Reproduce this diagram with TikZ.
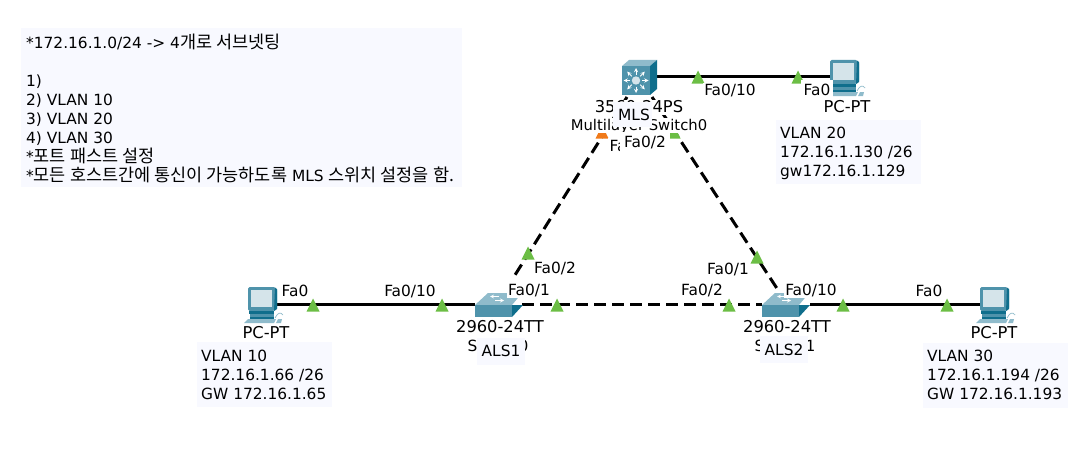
\documentclass[tikz,border=0pt]{standalone}
\usepackage{fontspec}
\setmainfont{DejaVu Sans}
\newfontfamily\cjk{Noto Sans CJK KR}
\newcommand{\ko}[1]{{\cjk\fontsize{17.5}{19}\selectfont #1}}
\definecolor{notebg}{HTML}{F8F9FF}
\definecolor{linkgreen}{HTML}{6CBE45}
\definecolor{linkorange}{HTML}{F07A1A}
\definecolor{icona}{HTML}{4F93AB}
\definecolor{iconb}{HTML}{8FBBCB}
\definecolor{iconc}{HTML}{0F6E8C}
\definecolor{screen}{HTML}{D5E4EA}
\tikzset{
  lbl/.style={font=\fontsize{15.4}{19}\selectfont, inner sep=0pt, text height=11pt, text depth=0pt},
  wlbl/.style={lbl, fill=white, inner xsep=1.5pt, inner ysep=2pt},
  wcap/.style={wlbl, font=\fontsize{16.3}{19}\selectfont},
  notetxt/.style={font=\fontsize{15.4}{19}\selectfont, align=left, anchor=north west, inner sep=0pt},
  trunk/.style={line width=3pt, dash pattern=on 12pt off 6pt},
  cable/.style={line width=3pt},
}
\newcommand{\tri}[3]{\fill[#3] (#1-6.5,#2+6.5) -- (#1,#2-6.5) -- (#1+6.5,#2+6.5) -- cycle;}
\newcommand{\pcicon}[2]{%
  \begin{scope}[shift={(#1,#2)}]
    \fill[icona,rounded corners=1.5pt] (3,0) -- (30,0) -- (32,2) -- (32,22) -- (29,24) -- (3,24) -- cycle;
    \fill[iconc] (30,1) -- (32,2) -- (32,22) -- (29,24) -- cycle;
    \fill[screen] (6,3) -- (27,3) -- (27,20) -- (6,20) -- cycle;
    \fill[iconc] (4,24) -- (29,24) -- (29,27) -- (4,27) -- cycle;
    \fill[icona] (5,27) -- (29,27) -- (29,30) -- (5,30) -- cycle;
    \fill[iconc] (5,30) -- (29,30) -- (29,31.5) -- (5,31.5) -- cycle;
    \fill[iconb] (-1,36) -- (3,32) -- (31,32) -- (29,36) -- cycle;
    \fill[iconb] (31,36) -- (33,32) -- (37,32) -- (36,36) -- cycle;
    \draw[iconb,line width=.7pt] (30,31) .. controls (33,25) and (36,25) .. (38,28);
  \end{scope}}
\newcommand{\swicon}[2]{%
  \begin{scope}[shift={(#1,#2)}]
    \fill[iconb] (0,12) -- (13,0) -- (47,0) -- (37,12) -- cycle;
    \draw[white, line width=.8pt, -stealth] (24,3.5) -- (15,3.5);
    \draw[white, line width=.8pt, -stealth] (20,7.5) -- (29,7.5);
    \fill[icona] (0,12) rectangle (37,24);
    \fill[iconc] (37,12) -- (48,12) -- (37,24) -- cycle;
  \end{scope}}
\begin{document}
\begin{tikzpicture}[x=1pt,y=-1pt]
\useasboundingbox (0,0) rectangle (1089,452);
\fill[white] (0,0) rectangle (1089,452);

% anchor coordinates of devices
\coordinate (MLSa) at (627,97);
\coordinate (MLSb) at (652,97);
\coordinate (MLSc) at (657,76);
\coordinate (PCtop) at (832,76);
\coordinate (PCl) at (277,304);
\coordinate (PCr) at (980,304);
\coordinate (S1l) at (475,304);
\coordinate (S1r) at (522,304);
\coordinate (S1t) at (515,275);
\coordinate (S2l) at (762,304);
\coordinate (S2r) at (810,304);
\coordinate (S2t) at (778,290);

% connectors
\draw[cable] (MLSc) -- (PCtop);
\draw[cable] (PCl) -- (S1l);
\draw[cable] (S2r) -- (PCr);
\draw[trunk] (MLSa) -- (S1t);
\draw[trunk] (MLSb) -- (S2t);
\draw[trunk] (S1r) -- (S2l);

% link lights
\tri{698}{77}{linkgreen}
\tri{798}{77}{linkgreen}
\tri{313}{305}{linkgreen}
\tri{442}{305}{linkgreen}
\tri{557}{305}{linkgreen}
\tri{729}{305}{linkgreen}
\tri{843}{305}{linkgreen}
\tri{947}{305}{linkgreen}
\tri{528}{253}{linkgreen}
\tri{757}{257}{linkgreen}
\tri{602}{132}{linkorange}
\tri{674}{132}{linkgreen}

% icons
\begin{scope}[shift={(622,60)}]
  \fill[iconb] (0,6) -- (7,0) -- (35,0) -- (28,6) -- cycle;
  \fill[icona] (0,6) rectangle (28,35);
  \fill[iconc] (28,6) -- (35,0) -- (35,29) -- (28,35) -- cycle;
  \foreach \a in {0,45,...,315}
    \draw[white, line width=.9pt, -stealth] (14,20.5) ++(\a:6) -- ++(\a:6.5);
  \fill[screen] (14,20.5) circle (4.2);
\end{scope}
\pcicon{827}{60}
\pcicon{245}{287}
\pcicon{977}{287}
\swicon{475}{293}
\swicon{762}{293}

% device captions
\node[wcap] (capa) at (639,107) {3560-24PS};
\node[wlbl,font=\fontsize{14.8}{19}\selectfont] (capb) at (639,125) {Multilayer Switch0};
\node[wlbl,anchor=west] (capc) at (608,145.5) {Fa0/1};
\node[wcap] (pc0) at (847,107) {PC-PT};
\node[wcap] (pc1) at (266,333) {PC-PT};
\node[wcap] (pc2) at (994,333) {PC-PT};
\node[wcap] (sw1a) at (500,327) {2960-24TT};
\node[wlbl] (sw1b) at (498,346) {Switch0};
\node[wcap] (sw2a) at (787,327) {2960-24TT};
\node[wlbl] (sw2b) at (785,346) {Switch1};

% port labels
\node[wlbl] (p1) at (730,90) {Fa0/10};
\node[wlbl,inner xsep=3pt,minimum height=20pt] (p2) at (817,90) {Fa0};
\node[wlbl] (p3) at (295,291) {Fa0};
\node[wlbl] (p4) at (410,291) {Fa0/10};
\node[wlbl] (p5) at (529,290) {Fa0/1};
\node[wlbl] (p6) at (555,268) {Fa0/2};
\node[wlbl] (p7) at (728,269) {Fa0/1};
\node[wlbl] (p8) at (702,290) {Fa0/2};
\node[wlbl] (p9) at (811,290) {Fa0/10};
\node[wlbl] (p10) at (929,291) {Fa0};
\node[wlbl,minimum width=50pt,minimum height=21pt] (p11) at (645,142) {Fa0/2};

% note boxes
\fill[notebg] (613,102) rectangle (652,127);
\node[lbl] (mls) at (634,115) {MLS};
\fill[notebg] (477,338) rectangle (525,365);
\node[lbl] (als1) at (501,351) {ALS1};
\fill[notebg] (760,336) rectangle (808,363);
\node[lbl] (als2) at (784,350) {ALS2};

\fill[notebg] (21,28) rectangle (462,187);
\node[notetxt] (main) at (26,33.5) {*172.16.1.0/24 -> 4\ko{개로 서브넷팅}\\\strut\\1)\\2) VLAN 10\\3) VLAN 20\\4) VLAN 30\\*\ko{포트 패스트 설정}\\*\ko{모든 호스트간에 통신이 가능하도록} MLS \ko{스위치 설정을 함.}};

\fill[notebg] (776,120) rectangle (921,184);
\node[notetxt] (n20) at (780,127) {VLAN 20\\172.16.1.130 /26\\gw172.16.1.129};
\fill[notebg] (197,342) rectangle (332,407);
\node[notetxt] (n10) at (201,350) {VLAN 10\\172.16.1.66 /26\\GW 172.16.1.65};
\fill[notebg] (923,343) rectangle (1068,408);
\node[notetxt] (n30) at (927,350) {VLAN 30\\172.16.1.194 /26\\GW 172.16.1.193};
\end{tikzpicture}
\end{document}
